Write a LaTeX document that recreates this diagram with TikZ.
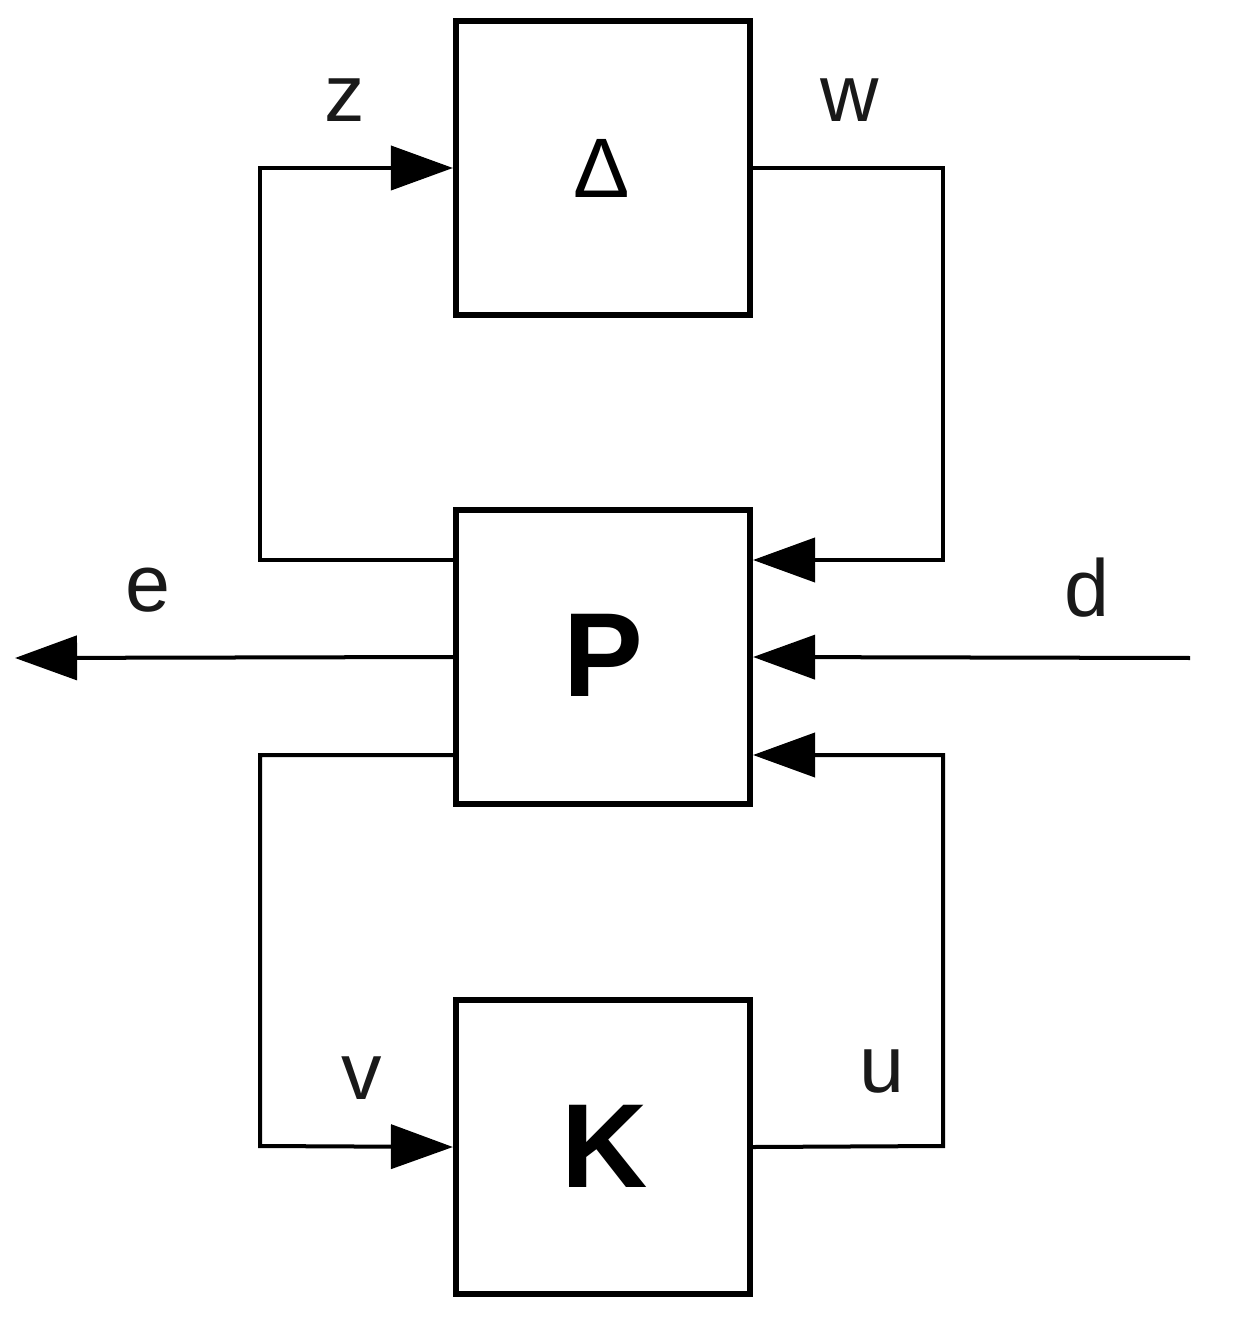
\documentclass[tikz,border=0pt]{standalone}
\usepackage{fontspec}
\setmainfont{Liberation Sans}
\usetikzlibrary{arrows.meta}
\begin{document}
\begin{tikzpicture}[x=0.01cm,y=-0.01cm,
  blk/.style={draw,line width=0.06cm,minimum width=2.94cm,minimum height=2.94cm,inner sep=0},
  wire/.style={line width=0.04cm},
  arr/.style={wire,-{Triangle[length=0.62cm,width=0.44cm]}},
  lbl/.style={font=\fontsize{23}{23}\selectfont,text=black!90}]
\useasboundingbox (0,0) rectangle (1253,1328);
\node[blk] (D) at (603,168) {};
\node[blk] (P) at (603,657) {};
\node[blk] (K) at (603,1147) {};
\node[font=\fontsize{24}{24}\selectfont] at (602,168) {Δ};
\node[font=\fontsize{34}{34}\selectfont\bfseries] at (603,655) {P};
\node[font=\fontsize{34}{34}\selectfont\bfseries] at (605,1146) {K};
\coordinate (eend) at (15,658);
\coordinate (dstart) at (1190,658);
\draw[arr] (453,560) -- (260,560) -- (260,168) -- (D.west);
\draw[arr] (D.east) -- (943,168) -- (943,560) -- (753,560);
\draw[arr] (P.west) -- (eend);
\draw[arr] (dstart) -- (P.east);
\draw[arr] (453,755) -- (260,755) -- (260,1146) -- (K.west);
\draw[arr] (K.east) -- (943,1146) -- (943,755) -- (753,755);
\node[lbl] (z) at (345,100) {z};
\node[lbl] (w) at (850,100) {w};
\node[lbl] (e) at (148,590) {e};
\node[lbl] (d) at (1087,588) {d};
\node[lbl] (v) at (362,1078) {v};
\node[lbl] (u) at (882,1072) {u};
\end{tikzpicture}
\end{document}
